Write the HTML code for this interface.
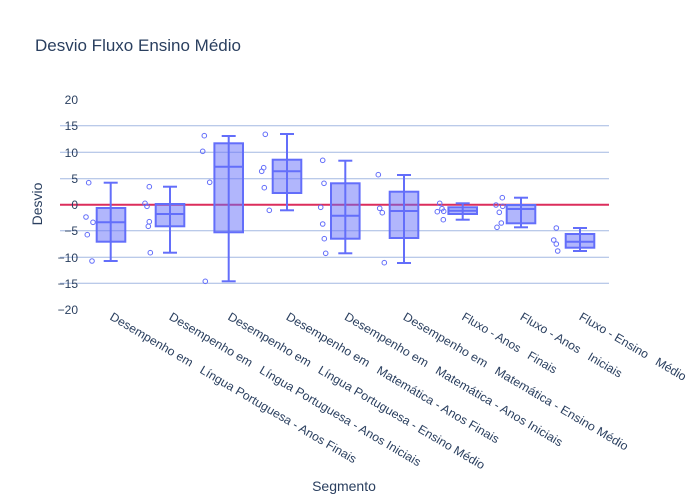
<!DOCTYPE html>
<html><head><meta charset="utf-8"><style>
html,body{margin:0;padding:0;background:#fff}
svg{display:block;font-family:"Liberation Sans","DejaVu Sans",sans-serif}
.lbl text{white-space:pre}
</style></head><body>
<svg width="700" height="500" viewBox="0 0 700 500" xmlns="http://www.w3.org/2000/svg">
<rect width="700" height="500" fill="#fff"/>
<text x="35" y="51" font-size="17" fill="#2a3f5f">Desvio Fluxo Ensino Médio</text>
<g stroke="#a4b8e2" stroke-width="1">
<line x1="60" x2="609" y1="125.7" y2="125.7"/>
<line x1="60" x2="609" y1="152.3" y2="152.3"/>
<line x1="60" x2="609" y1="178.7" y2="178.7"/>
<line x1="60" x2="609" y1="230.7" y2="230.7"/>
<line x1="60" x2="609" y1="257.3" y2="257.3"/>
<line x1="60" x2="609" y1="283.3" y2="283.3"/>
</g>
<line x1="60" x2="609" y1="204.7" y2="204.7" stroke="#dc2d5c" stroke-width="2"/>
<g font-size="12" fill="#2a3f5f" text-anchor="end">
<text x="78" y="104">20</text><text x="78" y="130">15</text><text x="78" y="157">10</text>
<text x="78" y="183">5</text><text x="78" y="209">0</text><text x="78" y="235">−5</text>
<text x="78" y="262">−10</text><text x="78" y="288">−15</text><text x="78" y="314">−20</text>
</g>
<text transform="translate(42,204) rotate(-90)" font-size="14" fill="#2a3f5f" text-anchor="middle">Desvio</text>
<text x="344" y="491" font-size="14" fill="#2a3f5f" text-anchor="middle">Segmento</text>

<g stroke="#636efa" stroke-width="2" fill="rgba(99,110,250,0.5)">
<g><line x1="110.7" x2="110.7" y1="182.7" y2="261"/><line x1="103.7" x2="117.7" y1="182.7" y2="182.7"/><line x1="103.7" x2="117.7" y1="261" y2="261"/><rect x="96.7" y="208" width="28.6" height="33.7"/><line x1="96.7" x2="125.3" y1="222.3" y2="222.3"/></g>
<g><line x1="170" x2="170" y1="186.7" y2="252.7"/><line x1="163" x2="177" y1="186.7" y2="186.7"/><line x1="163" x2="177" y1="252.7" y2="252.7"/><rect x="155.7" y="204" width="28.6" height="22.3"/><line x1="155.7" x2="184.3" y1="214" y2="214"/></g>
<g><line x1="228.7" x2="228.7" y1="136" y2="281.3"/><line x1="221.7" x2="235.7" y1="136" y2="136"/><line x1="221.7" x2="235.7" y1="281.3" y2="281.3"/><rect x="214.4" y="143.3" width="28.6" height="89"/><line x1="214.4" x2="243" y1="166.7" y2="166.7"/></g>
<g><line x1="287" x2="287" y1="134" y2="210.3"/><line x1="280" x2="294" y1="134" y2="134"/><line x1="280" x2="294" y1="210.3" y2="210.3"/><rect x="272.7" y="159.7" width="28.6" height="33.3"/><line x1="272.7" x2="301.3" y1="171.3" y2="171.3"/></g>
<g><line x1="345.3" x2="345.3" y1="160.7" y2="253.3"/><line x1="338.3" x2="352.3" y1="160.7" y2="160.7"/><line x1="338.3" x2="352.3" y1="253.3" y2="253.3"/><rect x="331" y="183.3" width="28.6" height="55.4"/><line x1="331" x2="359.6" y1="215.7" y2="215.7"/></g>
<g><line x1="404" x2="404" y1="175" y2="263"/><line x1="397" x2="411" y1="175" y2="175"/><line x1="397" x2="411" y1="263" y2="263"/><rect x="389.7" y="191.7" width="28.6" height="46.3"/><line x1="389.7" x2="418.3" y1="211" y2="211"/></g>
<g><line x1="462.7" x2="462.7" y1="203.3" y2="219.7"/><line x1="455.7" x2="469.7" y1="203.3" y2="203.3"/><line x1="455.7" x2="469.7" y1="219.7" y2="219.7"/><rect x="448.4" y="207.3" width="28.6" height="6.7"/><line x1="448.4" x2="477" y1="210.7" y2="210.7"/></g>
<g><line x1="521" x2="521" y1="197.7" y2="227.3"/><line x1="514" x2="528" y1="197.7" y2="197.7"/><line x1="514" x2="528" y1="227.3" y2="227.3"/><rect x="506.7" y="205" width="28.6" height="18.3"/><line x1="506.7" x2="535.3" y1="209" y2="209"/></g>
<g><line x1="580" x2="580" y1="228" y2="251"/><line x1="573" x2="587" y1="228" y2="228"/><line x1="573" x2="587" y1="251" y2="251"/><rect x="565.7" y="234" width="28.6" height="13.7"/><line x1="565.7" x2="594.3" y1="241.7" y2="241.7"/></g>
</g>

<g stroke="#636efa" stroke-width="1" fill="none">
<circle cx="88.7" cy="182.7" r="2.3"/><circle cx="86" cy="217" r="2.3"/><circle cx="93" cy="222.3" r="2.3"/><circle cx="87.3" cy="234.7" r="2.3"/><circle cx="92" cy="261" r="2.3"/>
<circle cx="145" cy="203.3" r="2.3"/><circle cx="147" cy="206.3" r="2.3"/><circle cx="149.3" cy="186.7" r="2.3"/><circle cx="149.3" cy="221.7" r="2.3"/><circle cx="148.3" cy="226.3" r="2.3"/><circle cx="150.3" cy="252.7" r="2.3"/>
<circle cx="204.3" cy="135.7" r="2.3"/><circle cx="202.7" cy="151.3" r="2.3"/><circle cx="209.7" cy="182.3" r="2.3"/><circle cx="205.3" cy="281.3" r="2.3"/>
<circle cx="265.3" cy="134.3" r="2.3"/><circle cx="263.7" cy="167.7" r="2.3"/><circle cx="261.7" cy="171.3" r="2.3"/><circle cx="264.3" cy="187.7" r="2.3"/><circle cx="269.3" cy="210.3" r="2.3"/>
<circle cx="322.7" cy="160.3" r="2.3"/><circle cx="324" cy="183.3" r="2.3"/><circle cx="320.7" cy="207.3" r="2.3"/><circle cx="322.7" cy="224" r="2.3"/><circle cx="324.3" cy="238.7" r="2.3"/><circle cx="325.7" cy="253.3" r="2.3"/>
<circle cx="378.3" cy="174.7" r="2.3"/><circle cx="379.7" cy="208.3" r="2.3"/><circle cx="382.3" cy="212.7" r="2.3"/><circle cx="384.3" cy="262.7" r="2.3"/>
<circle cx="439.7" cy="203.3" r="2.3"/><circle cx="442" cy="208.7" r="2.3"/><circle cx="437.3" cy="211.7" r="2.3"/><circle cx="443.7" cy="211.3" r="2.3"/><circle cx="443.3" cy="219.7" r="2.3"/>
<circle cx="502.3" cy="197.7" r="2.3"/><circle cx="496" cy="205" r="2.3"/><circle cx="502.7" cy="206.3" r="2.3"/><circle cx="499.3" cy="212.3" r="2.3"/><circle cx="501.3" cy="223" r="2.3"/><circle cx="497" cy="227.3" r="2.3"/>
<circle cx="556.3" cy="228" r="2.3"/><circle cx="553.7" cy="240" r="2.3"/><circle cx="556.3" cy="244" r="2.3"/><circle cx="557.7" cy="251" r="2.3"/>
</g>

<g class="lbl" font-size="12" fill="#2a3f5f">
<text transform="translate(109,319) rotate(30.6)" textLength="284" lengthAdjust="spacingAndGlyphs">Desempenho em   Língua Portuguesa - Anos Finais</text>
<text transform="translate(168.3,319) rotate(30.6)" textLength="290" lengthAdjust="spacingAndGlyphs">Desempenho em   Língua Portuguesa - Anos Iniciais</text>
<text transform="translate(227,319) rotate(30.6)" textLength="296" lengthAdjust="spacingAndGlyphs">Desempenho em   Língua Portuguesa - Ensino Médio</text>
<text transform="translate(285.3,319) rotate(30.6)" textLength="245" lengthAdjust="spacingAndGlyphs">Desempenho em   Matemática - Anos Finais</text>
<text transform="translate(343.6,319) rotate(30.6)" textLength="251" lengthAdjust="spacingAndGlyphs">Desempenho em   Matemática - Anos Iniciais</text>
<text transform="translate(402.3,319) rotate(30.6)" textLength="259" lengthAdjust="spacingAndGlyphs">Desempenho em   Matemática - Ensino Médio</text>
<text transform="translate(461,319) rotate(30.6)" textLength="108" lengthAdjust="spacingAndGlyphs">Fluxo - Anos   Finais</text>
<text transform="translate(519.3,319) rotate(30.6)" textLength="116" lengthAdjust="spacingAndGlyphs">Fluxo - Anos   Iniciais</text>
<text transform="translate(578.3,319) rotate(30.6)" textLength="122" lengthAdjust="spacingAndGlyphs">Fluxo - Ensino   Médio</text>
</g>
</svg>
</body></html>
